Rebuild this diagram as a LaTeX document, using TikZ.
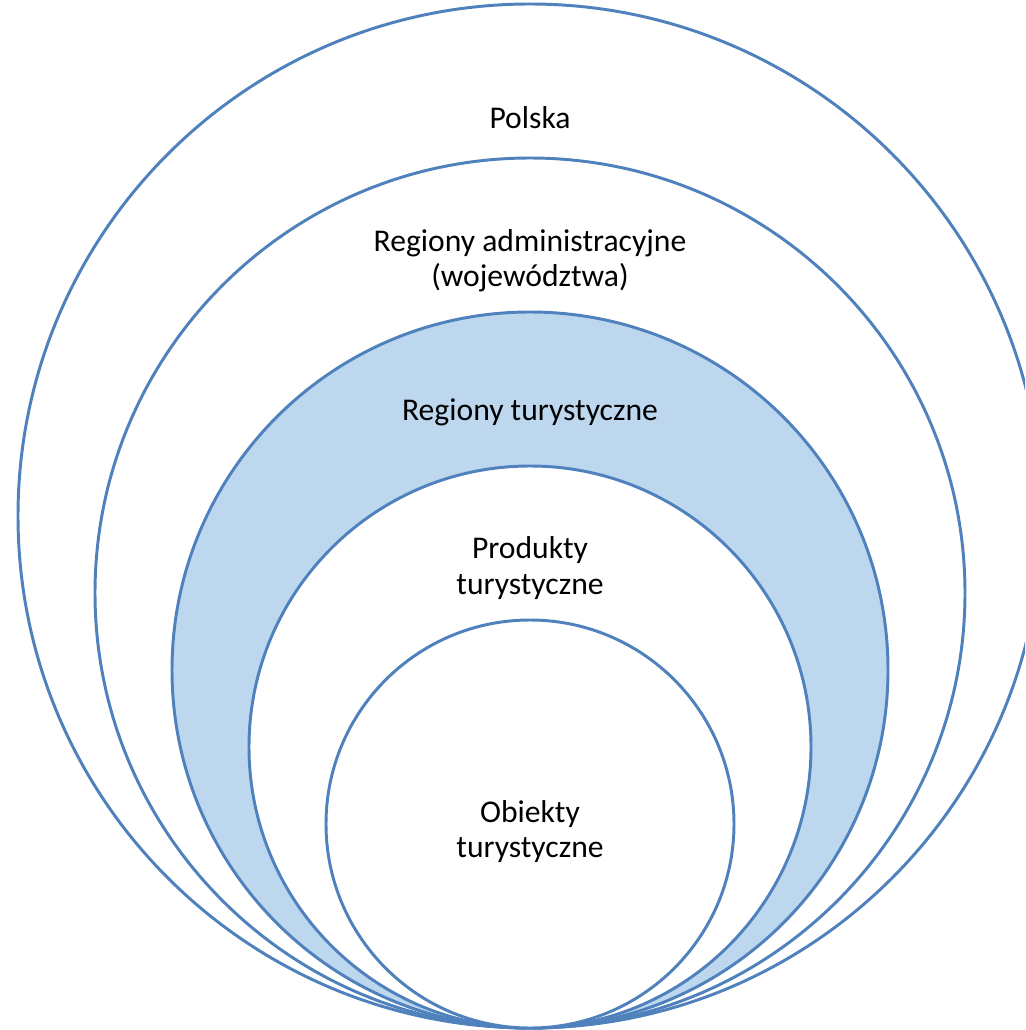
\documentclass[tikz,border=0pt]{standalone}
\usepackage{fontspec}
\setmainfont{Carlito}
\usepackage{tikz}
\usetikzlibrary{positioning}
\definecolor{ringline}{RGB}{79,129,189}
\definecolor{ringfill}{RGB}{189,215,238}

\begin{document}
\begin{tikzpicture}[
  ring/.style={circle,draw=ringline,line width=2.1pt,fill=white,inner sep=0pt},
  label/.style={align=center,font=\fontsize{22.5}{25}\selectfont,text=black}
]
\useasboundingbox (0,0) rectangle (25.625,-25.75);
\clip (0,0) rectangle (25.625,-25.75);

% nested rings, all touching at the bottom
\node[ring,minimum size=25.6cm] (pl) at (13.25,-12.9) {};
\node[ring,minimum size=21.75cm] (woj) at (13.25,-14.825) {};
\node[ring,fill=ringfill,minimum size=17.9cm] (reg) at (13.25,-16.75) {};
\node[ring,minimum size=14.05cm] (prod) at (13.25,-18.675) {};
\node[ring,minimum size=10.2cm] (obj) at (13.25,-20.6) {};

\node[label] (tpl) at (13.25,-2.95) {Polska};
\node[label] (twoj) at (13.25,-6.52) {Regiony administracyjne\\(województwa)};
\node[label] (treg) at (13.25,-10.3) {Regiony turystyczne};
\node[label] (tprod) at (13.25,-14.2) {Produkty\\turystyczne};
\node[label] (tobj) at (13.25,-20.78) {Obiekty\\turystyczne};

\end{tikzpicture}
\end{document}
